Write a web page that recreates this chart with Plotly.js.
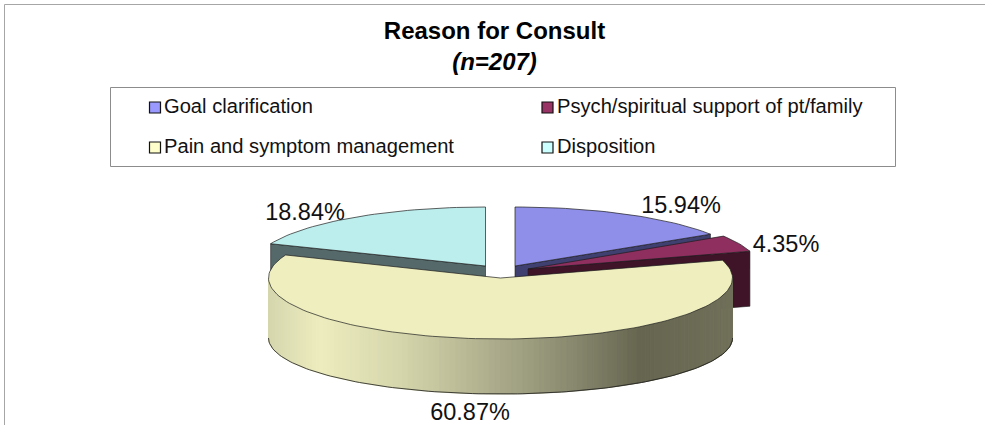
<!DOCTYPE html>
<html><head><meta charset="utf-8">
<script src="https://cdn.plot.ly/plotly-3.0.0.min.js"></script>
<style>html,body{margin:0;padding:0;background:#fff}#c{width:985px;height:425px}</style>
</head><body><div id="c"></div>
<script>
// data
const categories = ['Goal clarification','Psych/spiritual support of pt/family','Pain and symptom management','Disposition'];
const percents = [15.94, 4.35, 60.87, 18.84];
const chartTitle = 'Reason for Consult';
const chartSubtitle = '(n=207)';

// drawing styles and placement
const topColors = ['#8f8fea','#8e2f5f','#eeeebe','#bdeeee'];
const sideColors = ['#3f3f70','#3f1428','#66664f','#55696a'];
const swatchColors = ['#9999ff','#993366','#ffffcc','#ccffff'];
const centers = [[515,266],[528,269],[500.5,278],[485.5,266]];
const radiiY = [59,61,61,59];
const labelAt = [[681,207.5],[786,246.5],[470,414],[305,214]];
const swatchAt = [[155,107.5],[547.5,107.5],[155,147.5],[547.5,147.5]];
const legendTextAt = [[164,108],[557,108],[164,148],[557,148]];
const RX = 232, DEPTH = 55, WALL_RY = 56, WALL_DROP = 60;
const wallStops = [[269,[214,214,174]],[320,[236,236,190]],[400,[214,214,172]],[500,[170,170,138]],[570,[138,138,112]],[640,[102,102,80]],[732,[112,112,90]]];

const rad = d => d*Math.PI/180;
function pt(c, deg, ry, dy){ return [c[0]+RX*Math.sin(rad(deg)), c[1]-ry*Math.cos(rad(deg))+(dy||0)]; }
function wallColor(x){
  for(let i=1;i<wallStops.length;i++){
    if(x<=wallStops[i][0]){
      const a=wallStops[i-1], b=wallStops[i], t=Math.max(0,(x-a[0])/(b[0]-a[0]));
      return 'rgb('+a[1].map((v,k)=>Math.round(v+(b[1][k]-v)*t)).join(',')+')';
    }
  }
  return 'rgb('+wallStops[wallStops.length-1][1].join(',')+')';
}
const common = {type:'scatter',mode:'lines',showlegend:false,hoverinfo:'skip'};
function poly(pts,fill,line,lw,name){
  return Object.assign({},common,{name:name||'',x:pts.map(p=>p[0]),y:pts.map(p=>p[1]),fill:'toself',fillcolor:fill,line:{color:line,width:lw}});
}
const OUT='#1c1c1c';
let cum=0; const spans=percents.map(v=>{const s=[cum*3.6,(cum+v)*3.6];cum+=v;return s;});
function topPts(i){
  const [a,b]=spans[i],c=centers[i],n=Math.max(10,Math.round(percents[i]*2)),p=[c];
  for(let k=0;k<=n;k++)p.push(pt(c,a+(b-a)*k/n,radiiY[i]));
  p.push(c);return p;
}
function radialFace(i,deg){
  const c=centers[i],e=pt(c,deg,radiiY[i]);
  return poly([c,e,[e[0],e[1]+DEPTH],[c[0],c[1]+DEPTH],c],sideColors[i],OUT,0.6,categories[i]+' side');
}
const traces=[];
// back slices
traces.push(radialFace(3,spans[3][0]));
traces.push(poly(topPts(3),topColors[3],OUT,0.7,categories[3]));
traces.push(radialFace(0,spans[0][1]));
traces.push(poly(topPts(0),topColors[0],OUT,0.7,categories[0]));
traces.push(radialFace(1,spans[1][1]));
traces.push(poly(topPts(1),topColors[1],OUT,0.7,categories[1]));
// front slice wall
const NW=130, pc=centers[2], pry=radiiY[2];
for(let k=0;k<NW;k++){
  const d0=270-180*k/NW,d1=270-180*(k+1)/NW;
  const a=pt(pc,d0,pry),b=pt(pc,d1,pry),a2=pt(pc,d0,WALL_RY,WALL_DROP),b2=pt(pc,d1,WALL_RY,WALL_DROP);
  const col=wallColor((a[0]+b[0])/2);
  traces.push(poly([a,b,b2,a2,a],col,col,1,categories[2]+' wall'));
}
const rim=[];for(let k=0;k<=NW;k++){rim.push(pt(pc,270-180*k/NW,WALL_RY,WALL_DROP));}
traces.push(Object.assign({},common,{name:'rim',x:rim.map(p=>p[0]),y:rim.map(p=>p[1]),line:{color:OUT,width:0.8}}));
traces.push(poly(topPts(2),topColors[2],OUT,0.7,categories[2]));
// data labels
traces.push({type:'scatter',mode:'text',showlegend:false,hoverinfo:'skip',cliponaxis:false,
  x:labelAt.map(p=>p[0]),y:labelAt.map(p=>p[1]),text:percents.map(v=>v.toFixed(2)+'%'),
  textposition:'middle center',textfont:{family:'Liberation Sans',size:23.5,color:'#111'}});
// legend entries
traces.push({type:'scatter',mode:'markers',showlegend:false,hoverinfo:'skip',
  x:swatchAt.map(p=>p[0]),y:swatchAt.map(p=>p[1]),
  marker:{symbol:'square',size:11,color:swatchColors,line:{color:'#111',width:1.2}}});
traces.push({type:'scatter',mode:'text',showlegend:false,hoverinfo:'skip',
  x:legendTextAt.map(p=>p[0]),y:legendTextAt.map(p=>p[1]),text:categories,textposition:'middle right',
  textfont:{family:'Liberation Sans',size:20.15,color:'#111'}});

const layout={
  width:985,height:425,margin:{l:0,r:0,t:0,b:0},paper_bgcolor:'#fff',plot_bgcolor:'rgba(0,0,0,0)',
  showlegend:false,hovermode:false,
  title:{text:'<b>'+chartTitle+'</b><br><b><i>'+chartSubtitle+'</i></b>',x:494.5/985,xanchor:'center',y:1-38.5/425,yanchor:'middle',automargin:false,
    font:{family:'Liberation Sans',size:24,color:'#000'}},
  xaxis:{range:[0,985],visible:false,fixedrange:true},
  yaxis:{range:[425,0],visible:false,fixedrange:true},
  shapes:[
    {type:'rect',xref:'x',yref:'y',x0:110.5,x1:895.5,y0:87.5,y1:166.5,line:{color:'#8c8c8c',width:1},fillcolor:'rgba(0,0,0,0)',layer:'below'},
    {type:'line',xref:'x',yref:'y',x0:4.5,x1:985,y0:4.5,y1:4.5,line:{color:'#a6a6a6',width:1}},
    {type:'line',xref:'x',yref:'y',x0:4.5,x1:4.5,y0:4.5,y1:425,line:{color:'#a6a6a6',width:1}}
  ]
};
Plotly.newPlot('c',traces,layout,{displayModeBar:false,staticPlot:true});
</script></body></html>
